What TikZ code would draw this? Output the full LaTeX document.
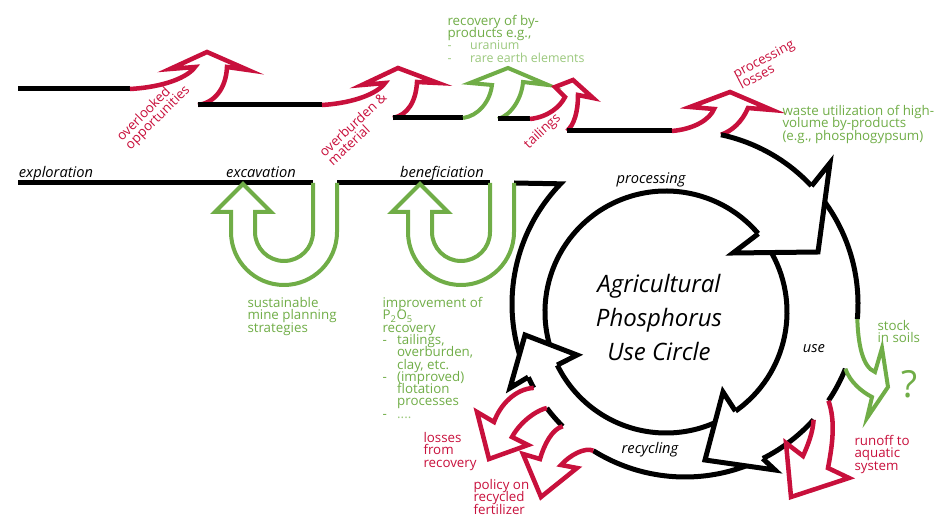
\documentclass[tikz,border=0pt]{standalone}
\usepackage{fontspec}
\setmainfont{Open Sans}
\usetikzlibrary{calc}
\definecolor{lossred}{RGB}{200,16,60}
\definecolor{gaingreen}{RGB}{112,173,71}
\definecolor{palegreen}{RGB}{155,200,125}
\newcommand\tightlines{\lineskiplimit=-20pt\relax}

\begin{document}
\begin{tikzpicture}[x=0.75pt, y=0.75pt, line width=3.75pt,
    redflow/.style={draw=lossred, line width=3.4pt},
    greenflow/.style={draw=gaingreen, line width=3pt},
    stage/.style={font=\fontsize{11}{13}\selectfont\itshape},
    greentext/.style={text=gaingreen, font=\fontsize{10}{9.2}\selectfont\tightlines, align=left, inner sep=0pt, anchor=north west},
    redtext/.style={text=lossred, font=\fontsize{10}{9.2}\selectfont\tightlines, align=left, inner sep=0pt}]
  \useasboundingbox (0,0) rectangle (942,517);

  % 1. Define the centers of the two circles and the arrow heads
  \coordinate (Co) at (685,213);
  \coordinate (Ci) at (666,205);

  \coordinate (p-n1) at ($(Co)+(43:173)$);
  \coordinate (p-w1) at (830,354);
  \coordinate (p-t)  at (818,265);
  \coordinate (p-w2) at (733,264);
  \coordinate (p-n2) at ($(Ci)+(40.3:121)$);

  \coordinate (u-n1) at ($(Co)+(-63.3:173)$);
  \coordinate (u-w1) at (775,47);
  \coordinate (u-t)  at (705,57);
  \coordinate (u-w2) at (723,125);
  \coordinate (u-n2) at ($(Ci)+(-55:121)$);

  \coordinate (r-n1) at ($(Co)+(-155:173)$);
  \coordinate (r-w1) at (510,129);
  \coordinate (r-t)  at (525,182);
  \coordinate (r-w2) at (577,162);
  \coordinate (r-n2) at ($(Ci)+(-154:121)$);

  % 2. Upper edge of the flow, with the losses going up
  \draw (18,428) -- (130,428);
  \draw[redflow] (130,428) .. controls (165,430) and (188,440) .. (195,450)
    -- (170,448) -- (207,465) -- (248,447) -- (227,450)
    .. controls (226,428) and (214,414) .. (198,412);
  \draw (198,412) -- (322,412);
  \draw[redflow] (322,412) .. controls (355,414) and (378,424) .. (385,434)
    -- (362,432) -- (398,449) -- (438,434) -- (417,435)
    .. controls (416,416) and (408,402) .. (393,399);
  \draw (393,399) -- (463,399);
  \draw[greenflow] (463,399) .. controls (478,401) and (490,415) .. (492,432)
    -- (470,434) -- (508,449) -- (548,432) -- (523,435)
    .. controls (522,420) and (512,402) .. (498,398);
  \draw (498,398) -- (530,398);
  \draw[redflow] (530,398) .. controls (548,400) and (560,410) .. (565,420)
    -- (555,430) -- (573,437) -- (593,419) -- (578,422)
    .. controls (578,405) and (574,392) .. (567,386);
  \draw (567,386) -- (672,386);
  \draw[redflow] (672,386) .. controls (695,388) and (710,398) .. (714,408)
    -- (690,410) -- (730,425) -- (772,407) -- (748,409)
    .. controls (742,395) and (732,386) .. ($(Co)+(78:173)$);

  % 3. Lower edge of the flow, with the green loops coming back
  \draw (18,334) -- (313,334);
  \draw (337,334) -- (490,334);
  \draw (514,334) -- ($(Co)+(136:173)$) arc[start angle=136, end angle=200, radius=173];
  \foreach \dx in {0,177}
    \draw[greenflow, shift={(\dx,0)}] (313,334) -- (313,285) arc[start angle=0, end angle=-180, radius=29]
      -- (255,305) -- (271,305) -- (243,333) -- (215,305) -- (231,305)
      -- (231,285) arc[start angle=180, end angle=360, radius=53] -- (337,334);

  % 4. Edges of the circle band
  \draw ($(Ci)+(199:121)$) arc[start angle=199, end angle=40.3, radius=121];
  \draw ($(Co)+(78:173)$) arc[start angle=78, end angle=43, radius=173];
  \draw ($(Co)+(38:173)$) arc[start angle=38, end angle=-5, radius=173];
  \draw ($(Co)+(-22:173)$) arc[start angle=-22, end angle=-34, radius=173];
  \draw ($(Co)+(-42:173)$) arc[start angle=-42, end angle=-63.3, radius=173];
  \draw ($(Ci)+(32:121)$) arc[start angle=32, end angle=-55, radius=121];
  \draw ($(Co)+(-68:173)$) arc[start angle=-68, end angle=-122, radius=173];
  \draw ($(Co)+(-135:173)$) arc[start angle=-135, end angle=-143, radius=173];
  \draw ($(Co)+(-151:173)$) arc[start angle=-151, end angle=-155, radius=173];
  \draw ($(Ci)+(-62:121)$) arc[start angle=-62, end angle=-154, radius=121];

  % 5. Arrow heads, white inside, over the band tails
  \foreach \h in {p,u,r} {
    \fill[white] (\h-n1) -- (\h-w1) -- (\h-t) -- (\h-w2) -- (\h-n2) -- cycle;
    \draw (\h-n1) -- (\h-w1) -- (\h-t) -- (\h-w2) -- (\h-n2);
  }

  % 6. Flows leaving the circle
  \draw[greenflow] ($(Co)+(-5:173)$) .. controls (858,175) and (862,150) .. (875,145)
    -- (882,169) -- (888,130) -- (867,99) -- (872,120)
    .. controls (862,125) and (850,135) .. ($(Co)+(-22:173)$);
  \draw[redflow] ($(Co)+(-34:173)$) .. controls (836,95) and (832,70) .. (828,49)
    -- (849,39) -- (791,20) -- (786,74) -- (803,61)
    .. controls (808,72) and (813,85) .. ($(Co)+(-42:173)$);
  \draw[redflow] ($(Co)+(-151:173)$) .. controls (515,128) and (500,112) .. (494,95)
    -- (477,105) -- (489,58) -- (528,72) -- (512,80)
    .. controls (522,98) and (540,108) .. ($(Co)+(-143:173)$);
  \draw[redflow] ($(Co)+(-135:173)$) .. controls (552,88) and (544,72) .. (540,58)
    -- (523,63) -- (541,20) -- (577,49) -- (561,52)
    .. controls (570,62) and (585,70) .. ($(Co)+(-122:173)$);

  % 7. Stage names and the center text
  \node[stage, anchor=base west] (explor) at (12,339) {exploration};
  \node[stage, anchor=base] (excav) at (261,339) {excavation};
  \node[stage, anchor=base] (benef) at (442,339) {beneficiation};
  \node[stage, anchor=base] (proc) at (651,333) {processing};
  \node[stage, anchor=base] (usetxt) at (814,164) {use};
  \node[stage, anchor=base] (recyc) at (650,63) {recycling};
  \node[font=\fontsize{18}{25.5}\selectfont\itshape, align=center] (apuc) at (659,199)
    {Agricultural\\Phosphorus\\Use Circle};

  % 8. Losses and measures
  \node[redtext, rotate=45, anchor=south west] (overl) at (133,361) {overlooked\\opportunities};
  \node[redtext, rotate=43, anchor=south west] (overb) at (333,347) {overburden \&\\material};
  \node[redtext, rotate=43, anchor=south west] (tail) at (531,362) {tailings};
  \node[redtext, rotate=28, anchor=south west] (procl) at (741,424) {processing\\losses};
  \node[greentext] (byprod) at (445,504) {recovery of by-\\products e.g.,};
  \node[greentext, text=palegreen, font=\fontsize{9.3}{9.6}\selectfont] (bylist) at (445,479)
    {\makebox[17pt][l]{-}uranium\\\makebox[17pt][l]{-}rare earth elements};
  \node[greentext] (waste) at (780,414) {waste utilization of high-\\volume by-products\\(e.g., phosphogypsum)};
  \node[greentext] (mine) at (245,222) {sustainable\\mine planning\\strategies};
  \node[greentext] (pimpr) at (380,222) {improvement of\\P\textsubscript{2}O\textsubscript{5}\\recovery\\
    \makebox[11pt][l]{-}tailings,\\\hspace{11pt}overburden,\\\hspace{11pt}clay, etc.\\
    \makebox[11pt][l]{-}(improved)\\\hspace{11pt}flotation\\\hspace{11pt}processes\\
    \makebox[11pt][l]{-}\textcolor{palegreen}{....}};
  \node[greentext] (stock) at (875,199) {stock\\in soils};
  \node[text=gaingreen, font=\fontsize{28}{28}\selectfont] (qmark) at (909,133) {?};
  \node[redtext, anchor=north west] (runoff) at (852,84) {runoff to\\aquatic\\system};
  \node[redtext, anchor=north west] (losstxt) at (421,87) {losses\\from\\recovery};
  \node[redtext, anchor=north west] (policy) at (471,40) {policy on\\recycled\\fertilizer};
\end{tikzpicture}
\end{document}
